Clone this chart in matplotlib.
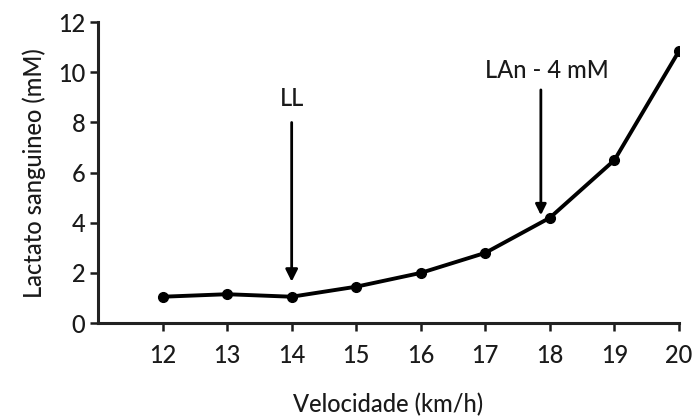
import matplotlib
matplotlib.use("Agg")
import matplotlib.pyplot as plt

# Blood lactate vs running speed
velocidade = [12, 13, 14, 15, 16, 17, 18, 19, 20]
lactato = [1.05, 1.15, 1.05, 1.45, 2.0, 2.8, 4.2, 6.5, 10.85]
x_ticks = [12, 13, 14, 15, 16, 17, 18, 19, 20]
y_ticks = [0, 2, 4, 6, 8, 10, 12]

plt.rcParams['font.family'] = ['Lato', 'DejaVu Sans']
TXT = '#1a1a1a'
FS = 17

fig = plt.figure(figsize=(6.95, 4.19), dpi=100)
ax = fig.add_axes([0.141, 0.229, 0.836, 0.718])

ax.plot(velocidade, lactato, color='black', lw=2.8, marker='o', ms=7,
        markerfacecolor='black', markeredgecolor='black', zorder=3)

ax.set_xlim(11, 20)
ax.set_ylim(0, 12)
ax.set_xticks(x_ticks)
ax.set_yticks(y_ticks)

for s in ['top', 'right']:
    ax.spines[s].set_visible(False)
for s in ['left', 'bottom']:
    ax.spines[s].set_linewidth(2.2)
    ax.spines[s].set_color('#222222')
ax.spines['left'].set_bounds(0, 12)
ax.spines['bottom'].set_bounds(11, 20)

ax.tick_params(axis='both', direction='out', length=6, width=1.8,
               labelsize=FS, colors=TXT)
ax.tick_params(axis='x', pad=9)
ax.tick_params(axis='y', pad=3)
for lab in ax.get_xticklabels() + ax.get_yticklabels():
    lab.set_fontweight('medium')

ax.set_xlabel('Velocidade (km/h)', fontsize=FS, fontweight='medium',
              labelpad=19, color=TXT)
ax.set_ylabel('Lactato sanguineo (mM)', fontsize=FS, fontweight='medium',
              labelpad=9, color=TXT)

# Threshold annotations
ax.annotate('', xy=(14, 1.65), xytext=(14, 8.0),
            arrowprops=dict(arrowstyle='-|>', color='black', lw=2,
                            mutation_scale=18, shrinkA=0, shrinkB=0))
ax.text(14, 8.5, 'LL', ha='center', va='bottom', fontsize=FS,
        fontweight='medium', color=TXT)

ax.annotate('', xy=(17.86, 4.3), xytext=(17.86, 9.3),
            arrowprops=dict(arrowstyle='-|>', color='black', lw=2,
                            mutation_scale=16, shrinkA=0, shrinkB=0))
ax.text(17.95, 9.6, 'LAn - 4 mM', ha='center', va='bottom', fontsize=FS,
        fontweight='medium', color=TXT)

fig.savefig('out.png', dpi=100)
